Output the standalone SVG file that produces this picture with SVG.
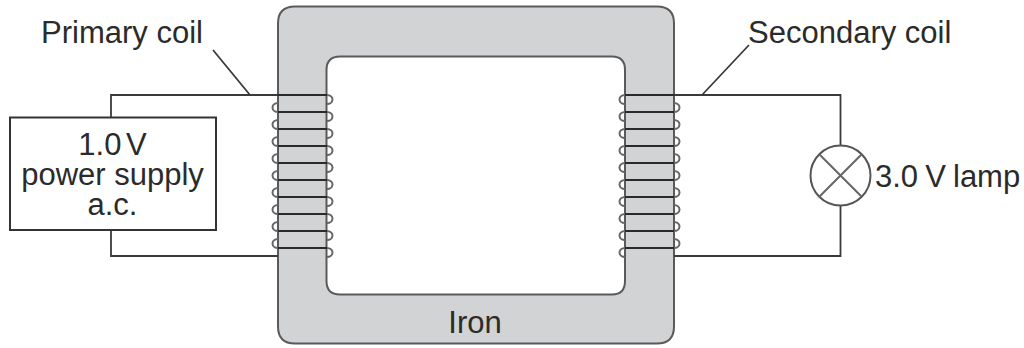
<svg xmlns="http://www.w3.org/2000/svg" width="1024" height="348" viewBox="0 0 1024 348">
<style>
text{font-family:"Liberation Sans",Arial,sans-serif;font-size:31px;fill:#2b2b2b}
.t{word-spacing:-4px}
.u{word-spacing:-1.500px}
.l{fill:none;stroke:#3a3a3a;stroke-width:1.8}
.w{fill:none;stroke:#2a2a2a;stroke-width:2}
.h{fill:none;stroke:#666;stroke-width:2}
</style>
<defs>
<path id="coilL" class="w" d="M278 0H327"/>
<path id="hookLb" class="h" d="M327 0a5.500 4.500 0 0 1 0 9"/>
<path id="hookLa" class="h" d="M278 0a5.500 4.500 0 0 1 0 -9"/>
<path id="coilR" class="w" d="M625 0H674"/>
<path id="hookRb" class="h" d="M625 0a5.500 4.500 0 0 0 0 9"/>
<path id="hookRa" class="h" d="M674 0a5.500 4.500 0 0 0 0 -9"/>
</defs>
<rect width="1024" height="348" fill="#fff"/>
<g id="iron-core"><path fill="#d1d3d4" stroke="#5a5a5a" stroke-width="2" fill-rule="evenodd" d="M295 6.500H657Q674 6.500 674 23.500V326.500Q674 343.500 657 343.500H295Q278 343.500 278 326.500V23.500Q278 6.500 295 6.500ZM340 56.500Q326.500 56.500 326.500 70V281Q326.500 294.500 340 294.500H612Q625 294.500 625 281V70Q625 56.500 612 56.500Z"/>
<text x="475" y="333" text-anchor="middle">Iron</text></g>
<g id="connectors">
<path class="l" d="M278 95H111V117.500M111 230V256H278M674 95H840.500V145.500M840.500 205.500V256H674"/>
<path class="l" d="M213 50L250 95M749 45L702 95"/>
</g>
<g id="primary-coil">
<use href="#coilL" y="95"/><use href="#coilL" y="112"/><use href="#coilL" y="129"/><use href="#coilL" y="146"/><use href="#coilL" y="163"/><use href="#coilL" y="180"/><use href="#coilL" y="197"/><use href="#coilL" y="214"/><use href="#coilL" y="231"/><use href="#coilL" y="248"/>
<use href="#hookLb" y="95"/><use href="#hookLb" y="112"/><use href="#hookLb" y="129"/><use href="#hookLb" y="146"/><use href="#hookLb" y="163"/><use href="#hookLb" y="180"/><use href="#hookLb" y="197"/><use href="#hookLb" y="214"/><use href="#hookLb" y="231"/><use href="#hookLb" y="248"/>
<use href="#hookLa" y="112"/><use href="#hookLa" y="129"/><use href="#hookLa" y="146"/><use href="#hookLa" y="163"/><use href="#hookLa" y="180"/><use href="#hookLa" y="197"/><use href="#hookLa" y="214"/><use href="#hookLa" y="231"/><use href="#hookLa" y="248"/>
</g>
<g id="secondary-coil">
<use href="#coilR" y="95"/><use href="#coilR" y="112"/><use href="#coilR" y="129"/><use href="#coilR" y="146"/><use href="#coilR" y="163"/><use href="#coilR" y="180"/><use href="#coilR" y="197"/><use href="#coilR" y="214"/><use href="#coilR" y="231"/><use href="#coilR" y="248"/>
<use href="#hookRb" y="95"/><use href="#hookRb" y="112"/><use href="#hookRb" y="129"/><use href="#hookRb" y="146"/><use href="#hookRb" y="163"/><use href="#hookRb" y="180"/><use href="#hookRb" y="197"/><use href="#hookRb" y="214"/><use href="#hookRb" y="231"/><use href="#hookRb" y="248"/>
<use href="#hookRa" y="112"/><use href="#hookRa" y="129"/><use href="#hookRa" y="146"/><use href="#hookRa" y="163"/><use href="#hookRa" y="180"/><use href="#hookRa" y="197"/><use href="#hookRa" y="214"/><use href="#hookRa" y="231"/><use href="#hookRa" y="248"/>
</g>
<g id="power-supply"><rect x="10" y="117.500" width="206" height="112.500" fill="#fff" stroke="#333" stroke-width="2"/>
<text class="t" x="112.500" y="155" text-anchor="middle">1.0 V</text><text x="112.500" y="185" text-anchor="middle">power supply</text><text x="112.500" y="215" text-anchor="middle">a.c.</text></g>
<g id="lamp"><circle cx="840.500" cy="175.500" r="30" fill="#fff" stroke="#555" stroke-width="2"/><path class="h" d="M819.300 154.300L861.700 196.700M861.700 154.300L819.300 196.700"/>
<text class="u" x="875" y="187">3.0 V lamp</text></g>
<g id="labels"><text x="41" y="43">Primary coil</text><text x="748" y="43">Secondary coil</text></g>
</svg>
